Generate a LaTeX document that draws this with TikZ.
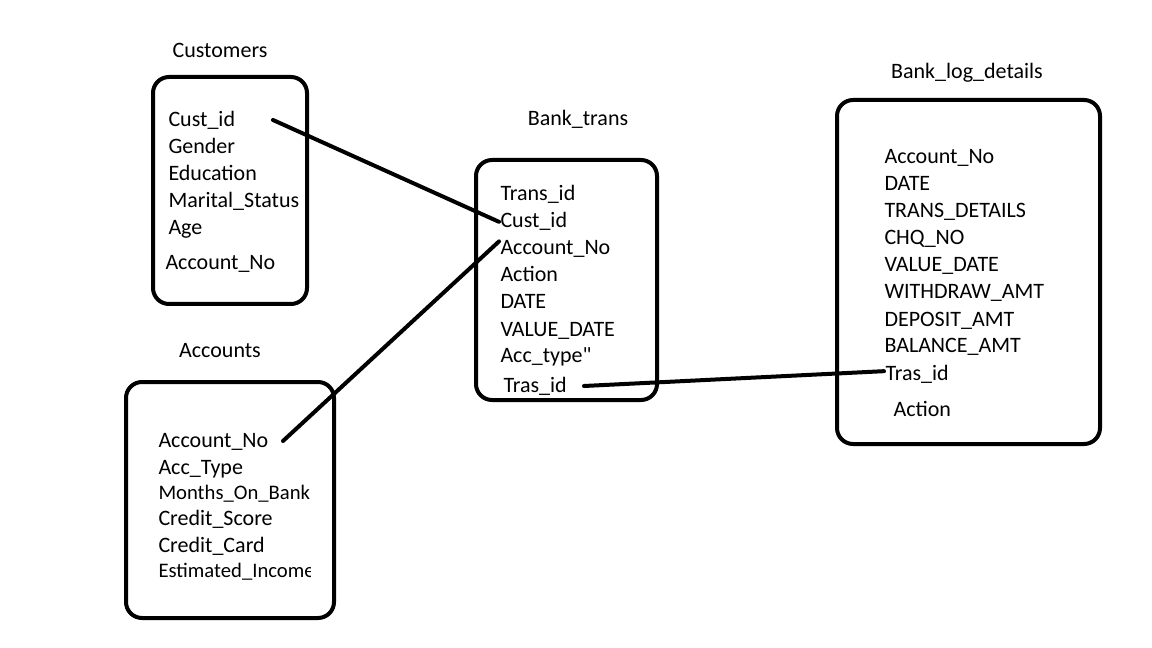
\documentclass[tikz,border=0pt]{standalone}
\usepackage{fontspec}
\setmainfont{Carlito}
\tikzset{every picture/.style={line width=0.75pt}}
\tikzset{
  tablebox/.style={line width=3pt, rounded corners=12},
  link/.style={line width=3pt, line cap=round},
  field/.style={anchor=base west, inner sep=0.75pt, font=\fontsize{16.5}{19}\selectfont},
  smallfield/.style={anchor=base west, inner sep=0.75pt, font=\fontsize{15.5}{18}\selectfont},
  tabletitle/.style={anchor=base, inner sep=0.75pt, font=\fontsize{16.5}{19}\selectfont}
}
\begin{document}
\begin{tikzpicture}[x=0.75pt,y=0.75pt,yscale=-1,xscale=1]
\useasboundingbox (0,0) rectangle (1152,648);

%Shape: Rectangle [Customers]
\draw [tablebox] (153,77) rectangle (307,304);
%Shape: Rectangle [Accounts]
\draw [tablebox] (126,382) rectangle (334,618);
%Shape: Rectangle [Bank_trans]
\draw [tablebox] (476,160) rectangle (657,400);
%Shape: Rectangle [Bank_log_details]
\draw [tablebox] (837,100) rectangle (1100,444);

% Text Node
\draw (220,58) node (cust_title) [tabletitle] {Customers};
\draw (220,358) node (acc_title) [tabletitle] {Accounts};
\draw (578,126) node (bt_title) [tabletitle] {Bank\_trans};
\draw (967,79) node (bl_title) [tabletitle] {Bank\_log\_details};

% Text Node
\draw (167,127) node (cust_id) [field] {Cust\_id};
\draw (167,154) node (cust_gender) [field] {Gender};
\draw (167,181) node (cust_edu) [field] {Education};
\draw (167,208) node (cust_marital) [field] {Marital\_Status};
\draw (167,235) node (cust_age) [field] {Age};
\draw (164,270) node (cust_accno) [field] {Account\_No};

% Text Node
\draw (157,447) node (acc_no) [field] {Account\_No};
\draw (157,474) node (acc_type) [field] {Acc\_Type};
\draw (157,499) node (acc_months) [smallfield] {Months\_On\_Bank};
\draw (157,525) node (acc_score) [field] {Credit\_Score};
\draw (157,552) node (acc_card) [field] {Credit\_Card};
\begin{scope}
\clip (126,555) rectangle (310,590);
\draw (157,577) node (acc_income) [smallfield] {Estimated\_Income};
\end{scope}

% Text Node
\draw (499,201) node (bt_transid) [field] {Trans\_id};
\draw (499,228) node (bt_custid) [field] {Cust\_id};
\draw (499,255) node (bt_accno) [field] {Account\_No};
\draw (499,282) node (bt_action) [field] {Action};
\draw (499,309) node (bt_date) [field] {DATE};
\draw (499,336) node (bt_vdate) [field] {VALUE\_DATE};
\draw (499,363) node (bt_acctype) [field] {Acc\_type\textquotedbl};
\draw (502,392) node (bt_trasid) [field] {Tras\_id};

% Text Node
\draw (883,164) node (bl_accno) [field] {Account\_No};
\draw (883,191) node (bl_date) [field] {DATE};
\draw (883,218) node (bl_details) [field] {TRANS\_DETAILS};
\draw (883,245) node (bl_chq) [field] {CHQ\_NO};
\draw (883,272) node (bl_vdate) [field] {VALUE\_DATE};
\draw (883,299) node (bl_withdraw) [field] {WITHDRAW\_AMT};
\draw (883,326) node (bl_deposit) [field] {DEPOSIT\_AMT};
\draw (883,353) node (bl_balance) [field] {BALANCE\_AMT};
\draw (884,380) node (bl_trasid) [field] {Tras\_id};
\draw (892,416) node (bl_action) [field] {Action};

%Straight Lines [free ends]
\coordinate (cust_link) at (273,120);
\coordinate (acc_link) at (283,441);
\coordinate (bt_link) at (584,386);

%Straight Lines
\draw [link] (cust_link) -- (bt_custid.west);
\draw [link] (acc_link) -- ([yshift=-6]bt_accno.west);
\draw [link] (bt_link) -- ([yshift=-2]bl_trasid.west);

\end{tikzpicture}
\end{document}
